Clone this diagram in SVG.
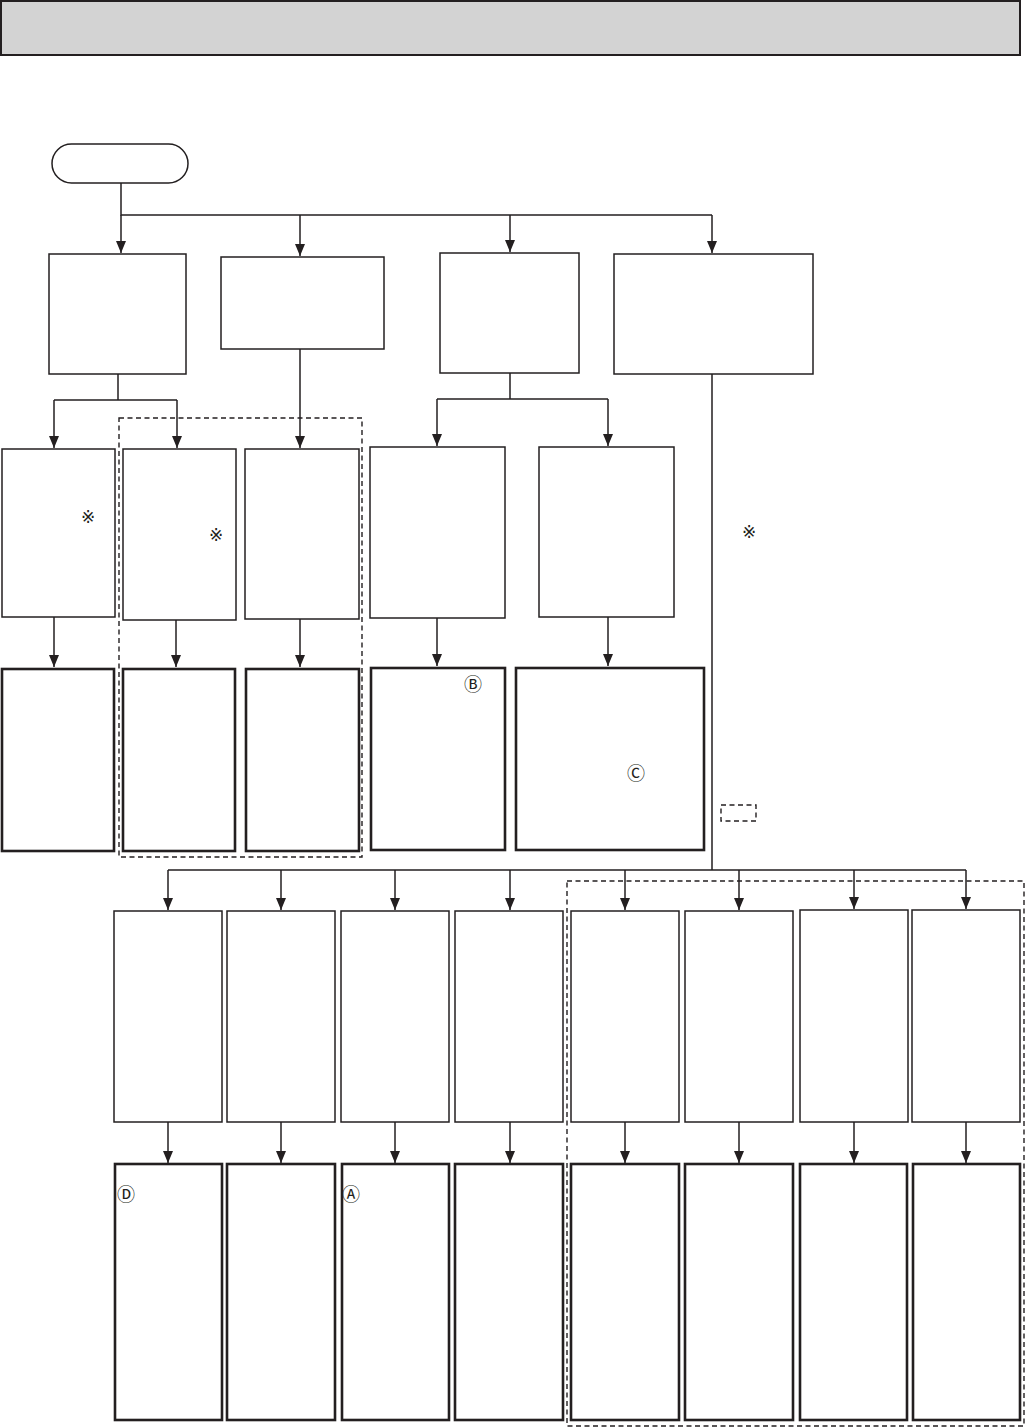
<svg xmlns="http://www.w3.org/2000/svg" width="1025" height="1428" viewBox="0 0 1025 1428">
<style>
.thin{fill:#fff;stroke:#231f20;stroke-width:1.5}
.thick{fill:#fff;stroke:#231f20;stroke-width:2.6}
.dash{fill:none;stroke:#231f20;stroke-width:1.4;stroke-dasharray:5,3.5}
.con{fill:none;stroke:#231f20;stroke-width:1.5}
.sym{font-family:"DejaVu Sans","Noto Sans CJK JP",sans-serif;font-size:17px;fill:#231f20;text-anchor:middle}
.cir{font-family:"Noto Sans CJK JP","DejaVu Sans",sans-serif;font-size:18px;fill:#231f20;text-anchor:middle}
</style>
<defs>
<marker id="ah" markerWidth="12" markerHeight="10" refX="12" refY="5" orient="auto" markerUnits="userSpaceOnUse" viewBox="0 0 12 10">
<path d="M0,0 L12,5 L0,10 Z" fill="#231f20"/>
</marker>
</defs>
<rect x="0" y="0" width="1025" height="1428" fill="#fff"/>
<g id="header"><rect x="1" y="1" width="1019" height="54" fill="#d3d3d3" stroke="#231f20" stroke-width="2"/></g>
<g id="start"><rect x="52" y="144" width="136" height="39" rx="19.5" ry="19.5" class="thin" stroke-width="1.2"/></g>

<g id="regions">
<rect x="119" y="418" width="243" height="439" class="dash"/>
<rect x="567" y="881" width="457" height="545" class="dash"/>
<rect x="721" y="805" width="35" height="16" class="dash"/>
</g>

<g id="connectors">
<path class="con" d="M121,183 V215 H712"/>
<path class="con" d="M121,215 V253" marker-end="url(#ah)"/>
<path class="con" d="M300,215 V256" marker-end="url(#ah)"/>
<path class="con" d="M510,215 V252" marker-end="url(#ah)"/>
<path class="con" d="M712,215 V253" marker-end="url(#ah)"/>
<path class="con" d="M118,374 V400 M54,400 H177"/>
<path class="con" d="M54,400 V448" marker-end="url(#ah)"/>
<path class="con" d="M177,400 V448" marker-end="url(#ah)"/>
<path class="con" d="M300,349 V448" marker-end="url(#ah)"/>
<path class="con" d="M510,373 V399 M437,399 H608"/>
<path class="con" d="M437,399 V446" marker-end="url(#ah)"/>
<path class="con" d="M608,399 V446" marker-end="url(#ah)"/>
<path class="con" d="M54,617 V667" marker-end="url(#ah)"/>
<path class="con" d="M176,620 V667" marker-end="url(#ah)"/>
<path class="con" d="M300,619 V667" marker-end="url(#ah)"/>
<path class="con" d="M437,618 V666" marker-end="url(#ah)"/>
<path class="con" d="M608,617 V666" marker-end="url(#ah)"/>
<path class="con" d="M712,374 V870 M168,870 H966"/>
<path class="con" d="M168,870 V910" marker-end="url(#ah)"/>
<path class="con" d="M281,870 V910" marker-end="url(#ah)"/>
<path class="con" d="M395,870 V910" marker-end="url(#ah)"/>
<path class="con" d="M510,870 V910" marker-end="url(#ah)"/>
<path class="con" d="M625,870 V910" marker-end="url(#ah)"/>
<path class="con" d="M739,870 V910" marker-end="url(#ah)"/>
<path class="con" d="M854,870 V909" marker-end="url(#ah)"/>
<path class="con" d="M966,870 V909" marker-end="url(#ah)"/>
<path class="con" d="M168,1122 V1163" marker-end="url(#ah)"/>
<path class="con" d="M281,1122 V1163" marker-end="url(#ah)"/>
<path class="con" d="M395,1122 V1163" marker-end="url(#ah)"/>
<path class="con" d="M510,1122 V1163" marker-end="url(#ah)"/>
<path class="con" d="M625,1122 V1163" marker-end="url(#ah)"/>
<path class="con" d="M739,1122 V1163" marker-end="url(#ah)"/>
<path class="con" d="M854,1122 V1163" marker-end="url(#ah)"/>
<path class="con" d="M966,1122 V1163" marker-end="url(#ah)"/>
</g>

<g id="top1"><rect x="49" y="254" width="137" height="120" class="thin"/></g>
<g id="top2"><rect x="221" y="257" width="163" height="92" class="thin"/></g>
<g id="top3"><rect x="440" y="253" width="139" height="120" class="thin"/></g>
<g id="top4"><rect x="614" y="254" width="199" height="120" class="thin"/></g>

<g id="mid1"><rect x="2" y="449" width="113" height="168" class="thin"/><text class="sym" x="88" y="523">※</text></g>
<g id="mid2"><rect x="123" y="449" width="113" height="171" class="thin"/><text class="sym" x="216" y="541">※</text></g>
<g id="mid3"><rect x="245" y="449" width="114" height="170" class="thin"/></g>
<g id="mid4"><rect x="370" y="447" width="135" height="171" class="thin"/></g>
<g id="mid5"><rect x="539" y="447" width="135" height="170" class="thin"/></g>

<g id="res1"><rect x="2" y="669" width="112" height="182" class="thick"/></g>
<g id="res2"><rect x="123" y="669" width="112" height="182" class="thick"/></g>
<g id="res3"><rect x="246" y="669" width="113" height="182" class="thick"/></g>
<g id="res4"><rect x="371" y="668" width="134" height="182" class="thick"/><text class="cir" x="473" y="691">Ⓑ</text></g>
<g id="res5"><rect x="516" y="668" width="188" height="182" class="thick"/><text class="cir" x="636" y="780">Ⓒ</text></g>

<g id="note"><text class="sym" x="749" y="538">※</text></g>

<g id="b1"><rect x="114" y="911" width="108" height="211" class="thin"/></g>
<g id="b2"><rect x="227" y="911" width="108" height="211" class="thin"/></g>
<g id="b3"><rect x="341" y="911" width="108" height="211" class="thin"/></g>
<g id="b4"><rect x="455" y="911" width="108" height="211" class="thin"/></g>
<g id="b5"><rect x="571" y="911" width="108" height="211" class="thin"/></g>
<g id="b6"><rect x="685" y="911" width="108" height="211" class="thin"/></g>
<g id="b7"><rect x="800" y="910" width="108" height="212" class="thin"/></g>
<g id="b8"><rect x="912" y="910" width="108" height="212" class="thin"/></g>

<g id="c1"><rect x="115" y="1164" width="107" height="256" class="thick"/><text class="cir" x="126" y="1201">Ⓓ</text></g>
<g id="c2"><rect x="227" y="1164" width="108" height="256" class="thick"/></g>
<g id="c3"><rect x="342" y="1164" width="107" height="256" class="thick"/><text class="cir" x="351" y="1201">Ⓐ</text></g>
<g id="c4"><rect x="455" y="1164" width="108" height="256" class="thick"/></g>
<g id="c5"><rect x="571" y="1164" width="108" height="256" class="thick"/></g>
<g id="c6"><rect x="685" y="1164" width="108" height="256" class="thick"/></g>
<g id="c7"><rect x="800" y="1164" width="107" height="256" class="thick"/></g>
<g id="c8"><rect x="913" y="1164" width="107" height="256" class="thick"/></g>
</svg>
